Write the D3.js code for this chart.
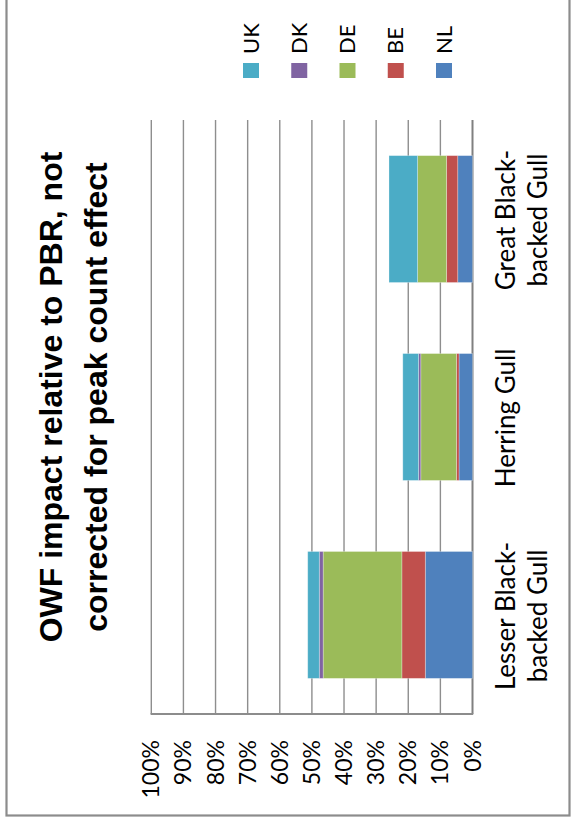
<!DOCTYPE html>
<html>
<head>
<meta charset="utf-8">
<script src="https://cdn.jsdelivr.net/npm/d3@7"></script>
<style>
  html, body { margin: 0; padding: 0; background: #fff; }
  svg { display: block; }
</style>
</head>
<body>
<svg id="chart" width="573" height="820"></svg>
<script>
// ---- data ----
const categories = ["Lesser Black-backed Gull", "Herring Gull", "Great Black-backed Gull"];
const categoryLines = [["Lesser Black-", "backed Gull"], ["Herring Gull"], ["Great Black-", "backed Gull"]];
const seriesNames = ["NL", "BE", "DE", "DK", "UK"];
const NL = [14.7, 4.2, 4.6];
const BE = [7.3, 0.8, 3.5];
const DE = [24.5, 11.1, 9.0];
const DK = [1.2, 0.7, 0.0];
const UK = [3.6, 4.9, 8.9];
const tickValues = [0, 10, 20, 30, 40, 50, 60, 70, 80, 90, 100];
const tickLabels = ["0%", "10%", "20%", "30%", "40%", "50%", "60%", "70%", "80%", "90%", "100%"];
const legendOrder = ["UK", "DK", "DE", "BE", "NL"];
const titleLines = ["OWF impact relative to PBR, not", "corrected for peak count effect"];

const colors = { NL: "#4F81BD", BE: "#C0504D", DE: "#9BBB59", DK: "#8064A2", UK: "#4BACC6" };
const seriesValues = { NL, BE, DE, DK, UK };

const svg = d3.select("#chart");

// frame
svg.append("rect").attr("x", 6.5).attr("y", -10).attr("width", 563).attr("height", 825.5)
  .attr("fill", "none").attr("stroke", "#8c8c8c").attr("stroke-width", 2.2);

// scales (chart is rotated: values run right->left, categories bottom->top)
const x = d3.scaleLinear().domain([0, 100]).range([472.5, 151.3]);
const y = d3.scaleBand().domain(categories).range([714, 120]).paddingInner(0.359).paddingOuter(0.18);

// gridlines
svg.append("g").selectAll("line").data(tickValues).join("line")
  .attr("x1", d => x(d)).attr("x2", d => x(d))
  .attr("y1", 120).attr("y2", 714)
  .attr("stroke", d => d === 0 ? "#808080" : "#8e8e8e")
  .attr("stroke-width", d => d === 0 ? 2 : 1.4);

// value axis line
svg.append("line").attr("x1", x(100) - 0.7).attr("x2", x(0) + 0.7).attr("y1", 714).attr("y2", 714)
  .attr("stroke", "#8c8c8c").attr("stroke-width", 1.8);

// stacked data
const rows = categories.map((c, i) => {
  const r = { category: c };
  seriesNames.forEach(s => r[s] = seriesValues[s][i]);
  return r;
});
const stack = d3.stack().keys(seriesNames)(rows);

svg.append("g").selectAll("g").data(stack).join("g")
  .attr("fill", d => colors[d.key])
  .selectAll("rect").data(d => d).join("rect")
  .attr("y", d => y(d.data.category))
  .attr("height", y.bandwidth())
  .attr("x", d => x(d[1]))
  .attr("width", d => x(d[0]) - x(d[1]))
  .attr("stroke", "#ffffff").attr("stroke-opacity", 0.35).attr("stroke-width", 0.8);

// tick labels (rotated)
svg.append("g").selectAll("text").data(tickValues).join("text")
  .attr("transform", d => `translate(${x(d) + 8},740) rotate(-90)`)
  .attr("text-anchor", "end")
  .attr("font-family", "Lato, 'Open Sans', sans-serif")
  .attr("font-size", 23)
  .attr("fill", "#000")
  .text((d, i) => tickLabels[i]);

// category labels (rotated)
const catG = svg.append("g");
categories.forEach((c, i) => {
  const cy = y(c) + y.bandwidth() / 2;
  categoryLines[i].forEach((line, j) => {
    catG.append("text")
      .attr("transform", `translate(${515 + j * 32},${cy + 1}) rotate(-90)`)
      .attr("text-anchor", "middle")
      .attr("font-family", "Lato, 'Open Sans', sans-serif")
      .attr("font-size", 26)
      .attr("fill", "#000")
      .text(line);
  });
});

// title (rotated)
titleLines.forEach((t, j) => {
  svg.append("text")
    .attr("transform", `translate(${62 + j * 45},397) rotate(-90)`)
    .attr("text-anchor", "middle")
    .attr("font-family", "'Liberation Sans', Arial, sans-serif")
    .attr("font-weight", "bold")
    .attr("font-size", 32)
    .attr("fill", "#000")
    .text(t);
});

// legend
const lg = svg.append("g");
const legendX = d3.scalePoint().domain(legendOrder).range([243, 436]);
legendOrder.forEach(k => {
  const lx = legendX(k);
  lg.append("rect").attr("x", lx).attr("y", 63).attr("width", 16).attr("height", 15)
    .attr("fill", colors[k]);
  lg.append("text")
    .attr("transform", `translate(${lx + 15.5},54) rotate(-90)`)
    .attr("text-anchor", "start")
    .attr("font-family", "Lato, 'Open Sans', sans-serif")
    .attr("font-size", 22)
    .attr("fill", "#000")
    .text(k);
});
</script>
</body>
</html>
